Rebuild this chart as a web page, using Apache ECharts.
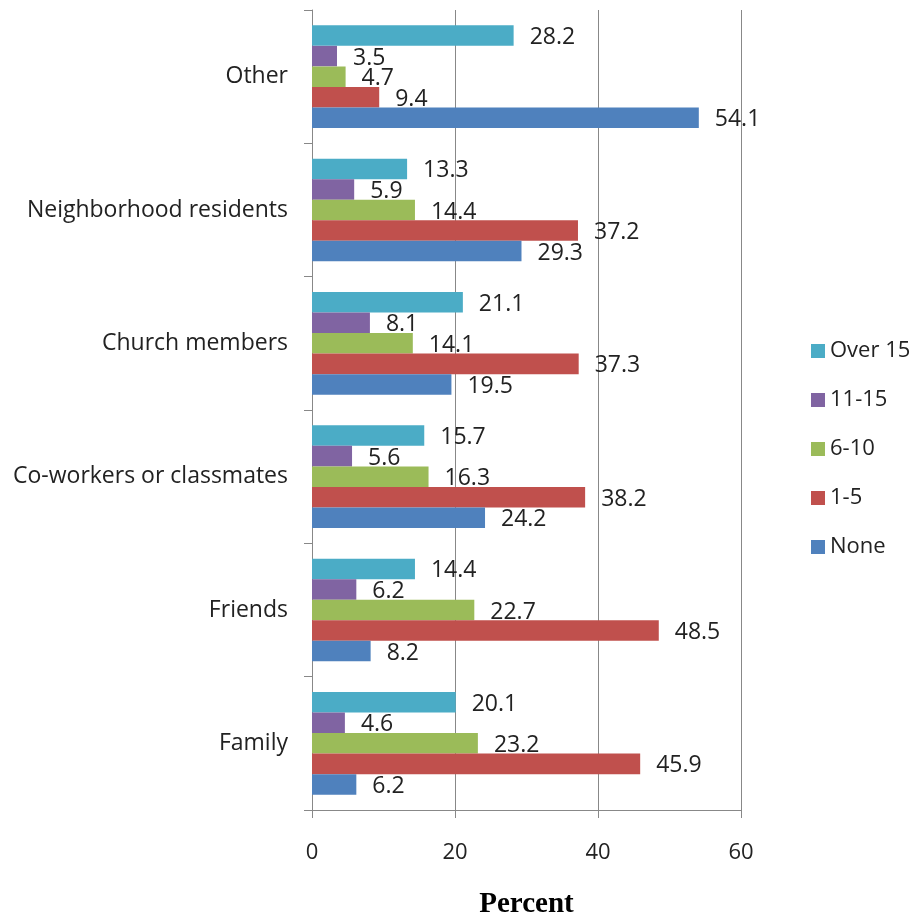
<!DOCTYPE html>
<html><head><meta charset="utf-8">
<script src="https://cdn.jsdelivr.net/npm/echarts@6/dist/echarts.min.js"></script>
<style>html,body{margin:0;padding:0;background:#fff}#c{width:916px;height:924px}</style>
</head><body><div id="c"></div>
<script>
const categories = ["Family", "Friends", "Co-workers or classmates", "Church members", "Neighborhood residents", "Other"];
const none = [6.2, 8.2, 24.2, 19.5, 29.3, 54.1];
const oneToFive = [45.9, 48.5, 38.2, 37.3, 37.2, 9.4];
const sixToTen = [23.2, 22.7, 16.3, 14.1, 14.4, 4.7];
const elevenToFifteen = [4.6, 6.2, 5.6, 8.1, 5.9, 3.5];
const over15 = [20.1, 14.4, 15.7, 21.1, 13.3, 28.2];
const xTicks = [0, 20, 40, 60];

const font = "'Open Sans', 'Noto Sans', sans-serif";
const seriesDefs = [
  {name: "Over 15", data: over15, color: "#4BACC6"},
  {name: "11-15", data: elevenToFifteen, color: "#8064A2"},
  {name: "6-10", data: sixToTen, color: "#9BBB59"},
  {name: "1-5", data: oneToFive, color: "#C0504D"},
  {name: "None", data: none, color: "#4F81BD"}
];
const chart = echarts.init(document.getElementById('c'));
chart.setOption({
  animation: false,
  grid: {left: 312, right: 175, top: 10, bottom: 114, outerBoundsMode: 'none', containLabel: false},
  legend: {
    orient: 'vertical', left: 806, top: 335, itemWidth: 14, itemHeight: 14, itemGap: 27,
    data: ["Over 15", "11-15", "6-10", "1-5", "None"],
    textStyle: {fontSize: 22, color: '#222', fontFamily: font},
    icon: 'rect'
  },
  xAxis: {
    type: 'value', min: xTicks[0], max: xTicks[xTicks.length - 1], interval: 20,
    name: 'Percent', nameLocation: 'middle', nameGap: 80,
    nameTextStyle: {fontFamily: "'Liberation Serif', 'DejaVu Serif', serif", fontWeight: 'bold', fontSize: 29, color: '#000'},
    axisLine: {show: true, lineStyle: {color: '#888'}},
    axisTick: {show: true, length: 8, lineStyle: {color: '#888'}},
    axisLabel: {fontSize: 22, color: '#222', margin: 32, fontFamily: font},
    splitLine: {show: true, lineStyle: {color: '#888'}}
  },
  yAxis: {
    type: 'category', data: categories,
    axisLine: {show: true, lineStyle: {color: '#888'}},
    axisTick: {show: true, length: 8, alignWithLabel: false, lineStyle: {color: '#888'}},
    axisLabel: {fontSize: 23, color: '#222', margin: 24, fontFamily: font}
  },
  series: seriesDefs.map(s => ({
    name: s.name, type: 'bar', data: s.data,
    itemStyle: {color: s.color},
    barGap: '0%', barCategoryGap: '23%',
    label: {show: true, position: 'right', distance: 16, fontSize: 23, color: '#222', fontFamily: font,
      offset: [0, 2], formatter: p => p.value.toFixed(1)}
  }))
});
</script></body></html>
